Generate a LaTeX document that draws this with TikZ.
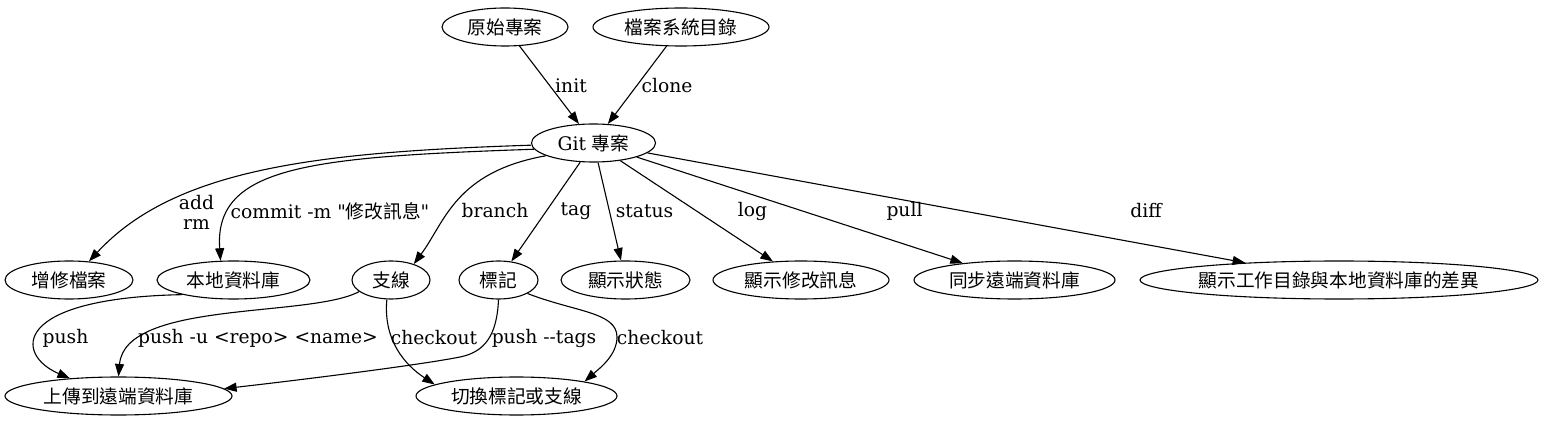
\documentclass[tikz,border=0pt]{standalone}
\usepackage{fontspec}
\setmainfont{DejaVu Serif}[Ligatures=TeXOff]
\newfontfamily\cjk{Noto Sans CJK TC}
\usetikzlibrary{shapes.geometric,arrows.meta}

\newcommand{\gvfont}{\fontsize{18.7pt}{20pt}\selectfont}
\tikzset{
  gvnode/.style={ellipse, draw, line width=1.1pt, inner sep=0pt,
    minimum height=38pt, font=\gvfont\cjk},
  gvedge/.style={line width=1.1pt, -{Triangle[length=12.5pt,width=9pt]}},
  gvlabel/.style={font=\gvfont, inner sep=0pt, align=center}
}

\begin{document}
\begin{tikzpicture}[x=1pt, y=-1pt]

\useasboundingbox (0,0) rectangle (1544,427);

% Where the project comes from
\node [gvnode, minimum width=126pt] (orig) at (505,27) {原始專案};
\node [gvnode, minimum width=176pt] (fsdir) at (681,27) {檔案系統目錄};
\node [gvnode, minimum width=124pt, font=\gvfont] (git) at (593.5,143) {Git {\cjk 專案}};

% What the commands give
\node [gvnode, minimum width=128pt] (add) at (69,280) {增修檔案};
\node [gvnode, minimum width=153pt] (local) at (233.5,280) {本地資料庫};
\node [gvnode, minimum width=78pt] (branch) at (391,280) {支線};
\node [gvnode, minimum width=79pt] (tag) at (498.5,280) {標記};
\node [gvnode, minimum width=129pt] (status) at (625.5,280) {顯示狀態};
\node [gvnode, minimum width=176pt] (log) at (801,280) {顯示修改訊息};
\node [gvnode, minimum width=201pt] (pull) at (1014.5,280) {同步遠端資料庫};
\node [gvnode, minimum width=398pt] (diff) at (1339,280) {顯示工作目錄與本地資料庫的差異};
\node [gvnode, minimum width=227pt] (upload) at (118.5,396) {上傳到遠端資料庫};
\node [gvnode, minimum width=201pt] (switch) at (516.5,396) {切換標記或支線};

% Getting a Git project
\draw [gvedge] (orig) -- (git);
\draw [gvedge] (fsdir) -- (git);

% Commands run in the project
\draw [gvedge] (git.182) .. controls (320,152) and (175,168) .. (add.43);
\draw [gvedge] (git.186) .. controls (310,157) and (214,166) .. (local.124);
\draw [gvedge] (git.195) .. controls (455,172) and (445,222) .. (branch.35);
\foreach \dst in {tag, status, log, pull, diff} {
  \draw [gvedge] (git) -- (\dst);
}

% Pushing and checking out
\draw [gvedge] (local.196) .. controls (10,298) and (15,355) .. (upload.160);
\draw [gvedge] (branch.200) .. controls (310,318) and (125,300) .. (upload.90);
\draw [gvedge] (branch.258) .. controls (383,340) and (405,365) .. (switch.172);
\draw [gvedge] (tag.270) .. controls (497,335) and (485,352) .. (460,357)
  .. controls (420,365) and (300,380) .. (upload.4);
\draw [gvedge] (tag.335) .. controls (575,312) and (617,312) .. (617,337)
  .. controls (617,355) and (600,368) .. (switch.12);

% Edge labels
\foreach \nm/\p/\txt in {
  init/{571,86}/init,
  clone/{667,86}/clone,
  addrm/{196.5,212}/{add\\rm},
  commit/{330,211}/{commit -m "{\cjk 修改訊息}"},
  branch/{495,211}/branch,
  tag/{576,211}/tag,
  status/{644.5,211}/status,
  log/{752.5,211}/log,
  pull/{904.5,211}/pull,
  diff/{1146,211}/diff,
  pushlocal/{65.5,338}/push,
  pushu/{258,338}/{push -u <repo> <name>},
  cobranch/{434,338}/checkout,
  pushtags/{544,338}/{push --tags},
  cotag/{660,338}/checkout} {
  \node [gvlabel] (l-\nm) at (\p) {\txt};
}

\end{tikzpicture}
\end{document}
